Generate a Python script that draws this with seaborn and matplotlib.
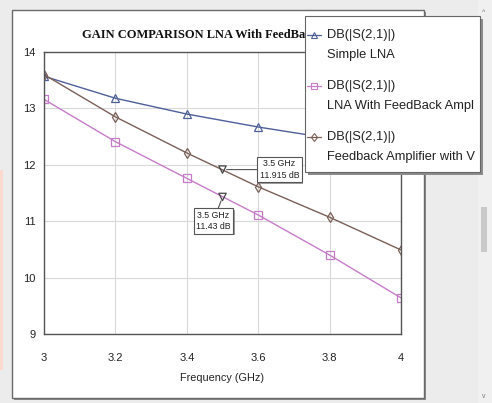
import numpy as np
import pandas as pd
import matplotlib
matplotlib.use("Agg")
import matplotlib.pyplot as plt
import seaborn as sns
from matplotlib.patches import Rectangle
from matplotlib.legend_handler import HandlerLine2D
from matplotlib.lines import Line2D
import matplotlib.patheffects as pe

# ---- data ----
freq = [3.0, 3.2, 3.4, 3.6, 3.8, 4.0]
simple_lna = [13.57, 13.18, 12.90, 12.67, 12.47, 12.28]
lna_feedback = [13.16, 12.41, 11.76, 11.11, 10.40, 9.64]
feedback_amp = [13.60, 12.85, 12.21, 11.61, 11.07, 10.49]
marker_freq = [3.5, 3.5]
marker_gain = [11.915, 11.43]
marker_text = ["3.5 GHz\n11.915 dB", "3.5 GHz\n11.43 dB"]
labels = ["DB(|S(2,1)|)\nSimple LNA",
          "DB(|S(2,1)|)\nLNA With FeedBack Ampl",
          "DB(|S(2,1)|)\nFeedback Amplifier with V"]
xticks = [3, 3.2, 3.4, 3.6, 3.8, 4]
xticklabels = ["3", "3.2", "3.4", "3.6", "3.8", "4"]
yticks = [9, 10, 11, 12, 13, 14]
title = "GAIN COMPARISON LNA With FeedBack"

sns.set_style("white")
plt.rcParams['font.family'] = ['Liberation Sans', 'DejaVu Sans']

W, H = 492, 403
fig = plt.figure(figsize=(W / 100, H / 100), dpi=100)
fig.patch.set_facecolor('#ececec')

def fx(px):
    return px / W

def fy(py):
    return 1 - py / H

# window panel
fig.add_artist(Rectangle((fx(14), fy(400)), fx(412), 388 / H, transform=fig.transFigure,
                         facecolor='#8a8a8a', edgecolor='none', zorder=-11))
fig.add_artist(Rectangle((fx(12), fy(398)), fx(412), 388 / H, transform=fig.transFigure,
                         facecolor='white', edgecolor='#6a6a6a', lw=1.0, zorder=-10))
# scrollbar
fig.add_artist(Rectangle((fx(478), 0), fx(14), 1, transform=fig.transFigure,
                         facecolor='#f0f0f0', edgecolor='none', zorder=-10))
fig.add_artist(Rectangle((fx(481), fy(252)), fx(6), 45 / H, transform=fig.transFigure,
                         facecolor='#c9c9c9', edgecolor='none', zorder=-9))
fig.text(fx(484), fy(12), "^", fontsize=5, color='#777', ha='center', va='center')
fig.text(fx(484), fy(396), "v", fontsize=5, color='#777', ha='center', va='center')
# pinkish left strip
fig.add_artist(Rectangle((0, fy(370)), fx(3), 200 / H, transform=fig.transFigure,
                         facecolor='#fbd9cf', edgecolor='none', zorder=-9))

ax = fig.add_axes([fx(44), fy(334), fx(401) - fx(44), (334 - 52) / H])
ax.set_facecolor('white')

c_blue = '#4f5f9a'
c_pink = '#c67cc8'
c_brown = '#7a6058'

series = [(simple_lna, c_blue, '^', 5.5), (lna_feedback, c_pink, 's', 6.0),
          (feedback_amp, c_brown, 'd', 5.5)]
handles = []
for (vals, col, mk, ms), lab in zip(series, labels):
    df = pd.DataFrame({'f': freq, 'g': vals})
    sns.lineplot(data=df, x='f', y='g', ax=ax, color=col, lw=1.0, marker=mk,
                 markersize=ms, markerfacecolor='none', markeredgecolor=col,
                 markeredgewidth=0.9, legend=False)
    handles.append(Line2D([], [], color=col, lw=0.9, marker=mk, markersize=4.5,
                          markerfacecolor='none', markeredgecolor=col, markeredgewidth=0.8))

mdf = pd.DataFrame({'f': marker_freq, 'g': marker_gain})
sns.scatterplot(data=mdf, x='f', y='g', ax=ax, marker='v', s=28, facecolor='none',
                edgecolor='#444444', linewidth=0.9, zorder=5, legend=False)

ax.set_xlim(3, 4)
ax.set_ylim(9, 14)
ax.set_xticks(xticks)
ax.set_xticklabels(xticklabels)
ax.set_yticks(yticks)
ax.grid(True, color='#d9d9d9', lw=0.8)
ax.tick_params(axis='both', length=0, labelsize=8, colors='#222222')
ax.tick_params(axis='x', pad=14)
ax.tick_params(axis='y', pad=6)
for s in ax.spines.values():
    s.set_color('#555555')
    s.set_linewidth(1.0)
ax.set_xlabel("Frequency (GHz)", fontsize=7.8, color='#222222', labelpad=7)
ax.set_ylabel("")

offsets = [(41, 0), (-6.5, -17.3)]
for fq, g, t, off in zip(marker_freq, marker_gain, marker_text, offsets):
    ann = ax.annotate(t, xy=(fq, g), xytext=off, textcoords='offset points',
                      ha='center', va='center', fontsize=6.3,
                      color='#222222', linespacing=1.4,
                      bbox=dict(boxstyle='square,pad=0.28', fc='white', ec='#555555', lw=0.8),
                      arrowprops=dict(arrowstyle='-', color='#555555', lw=0.8,
                                      shrinkA=0, shrinkB=3), zorder=6)
    ann.get_bbox_patch().set_path_effects([pe.SimplePatchShadow(offset=(1.2, -1.2),
                                                                shadow_rgbFace='#888888', alpha=0.8),
                                           pe.Normal()])

fig.text(fx(82), fy(35), title, fontsize=9, fontweight='bold',
         family=['Liberation Serif', 'DejaVu Serif'], ha='left', va='center', color='#111111')

# legend frame (drawn manually for exact size) with shadow
fig.add_artist(Rectangle((fx(308), fy(175)), fx(175), 156 / H, transform=fig.transFigure,
                         facecolor='#8c8c8c', edgecolor='none', zorder=3.9))
fig.add_artist(Rectangle((fx(305), fy(172)), fx(175), 156 / H, transform=fig.transFigure,
                         facecolor='white', edgecolor='#666666', lw=0.8, zorder=4))


class TopHandler(HandlerLine2D):
    def create_artists(self, legend, orig_handle, xdescent, ydescent, width, height,
                       fontsize, trans):
        arts = super().create_artists(legend, orig_handle, xdescent, ydescent, width,
                                      height, fontsize, trans)
        for a in arts:
            a.set_ydata(np.asarray(a.get_ydata()) + fontsize * 0.8)
        return arts


leg = fig.legend(handles, labels, loc='upper left', bbox_to_anchor=(fx(306), fy(28)),
                 bbox_transform=fig.transFigure, fontsize=9.3, frameon=False,
                 handlelength=1.05, handletextpad=0.5, labelspacing=1.5, borderpad=0.1,
                 borderaxespad=0, handler_map={Line2D: TopHandler()})
leg.set_zorder(5)
for t in leg.get_texts():
    t.set_color('#222222')
    t.set_linespacing(1.85)

fig.savefig("out.png", dpi=100, facecolor=fig.get_facecolor())
